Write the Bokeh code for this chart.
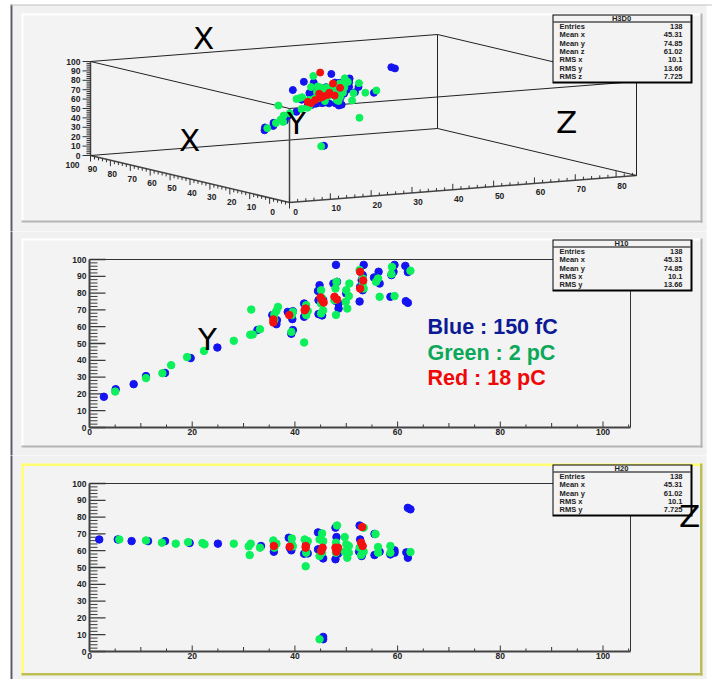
from bokeh.plotting import figure
from bokeh.models import BoxAnnotation, Label, FixedTicker, Range1d, LinearAxis
from bokeh.core.properties import value
from bokeh.embed import file_html
from bokeh.resources import INLINE

BLUE, GREEN, RED = "#1414f0", "#0cf05c", "#f41010"

# H10 (x, y) --------------------------------------------------------------
h10_blue_x = [2.8,5.1,8.6,11,14.7,19.7,24.9,32.7,35.6,36.5,36.4,38.6,39.6,39.5,39.6,39.3,41.8,42.2,41.8,44.8,44.5,44.6,44.6,45.3,45.5,48,47.5,48.2,47.9,48.5,48.5,50,52.6,52.7,53,53.2,53.2,53.4,55.4,56.3,56.5,58.6,58.8,59.2,59.4,61.5,62,61.6,62.0]
h10_blue_y = [18.3,22.8,25.8,30.6,32.5,41.3,47.6,58,66.9,63.9,61.5,68.8,69.2,64.5,58,55.8,73.8,68.8,65.9,84.7,81.3,75.8,67.5,66.7,76,96.8,85.7,86.7,75.4,73.8,70.8,79.8,75,83.7,87.7,81.7,90.7,96.8,89.3,92.7,85.7,77.8,90.7,92.7,96.8,96.2,92.5,75.2,74.2]
h3d_blue_z = [66.7,66.7,65.7,65.7,65.7,64.6,64.2,62.8,63.8,59.4,62,67.7,61.8,60.2,63,62,63.8,58.2,58.4,70.9,60.8,62,58,55.4,7,55,60,68,73.7,58,68,60,62,66.7,75,57,59.4,57,57.4,59.4,70,58,57.8,60.2,58.8,59,55.8,85.5,84.6]

h10_green_x = [5,11,14.2,15.9,19,22.3,28.1,31.5,31.3,31.8,33.2,36,36.4,36.7,36,39.3,39.4,39.6,41.8,42.2,42.2,42.5,45.1,45.3,45.1,45.5,45.1,48.1,47.9,48,47.7,49.9,50.2,50,50.6,50.5,52.6,53.2,53.4,53.2,55.8,56.2,56.5,59.4,58.8,58.9,62.5]
h10_green_y = [21.4,29.4,32.3,37.1,41.9,45.6,51.6,70.2,55.2,55.4,58.5,67.5,69.4,71.8,64,56.9,66.9,68.8,50.6,72.8,66.9,69.4,81.7,77,73.8,69.8,67.9,86.7,82.7,67,75.8,74.8,70.8,81.7,85.7,78.2,93.7,85.7,82.7,88.7,86.7,88.7,77.8,78.2,91.3,95.6,93.3]
h3d_green_z = [66.7,66.1,64.8,64.2,65.1,64.6,64.2,57.4,62.6,64.2,61.8,66.1,64.2,61.8,65,67.3,63.8,62.6,50.7,66.7,65.7,58.8,66.7,6,70.3,65.7,58.8,75,64.8,58.8,62,68.1,63.8,62.8,59.4,55.8,58.8,61.8,57.4,59.4,69.9,62.2,58.8,60,62.8,58.8,59.2]

h10_red_x = [35.8,35.8,38.9,41.9,42.1,45,45.3,45.6,47.7,48.2,52.7,53.3,52.7]
h10_red_y = [64.3,62.5,66.9,69.8,70.8,77.4,75.8,74.4,77.8,76.2,92.7,87.5,82.7]
h3d_red_z = [62.8,62.4,62.4,62.8,61.8,61.8,59.8,61.8,61.8,59.4,74.1,64.8,62.8]

# H20 (x, z) --------------------------------------------------------------
h20_blue_x = [1.9,5.5,8.2,11.4,14.7,19.5,25,33.4,35.9,36,38.8,39,39.3,41.8,42.5,42.2,44.5,44.5,45.5,45.5,45.5,47.9,48.1,47.9,48.4,52.6,52.7,53,52.5,55.5,56.5,58.6,59.4,59.4,61.7,62,62,62.5,55.5]
h20_blue_z = [66.7,66.7,65.7,65.7,65.7,64.6,64.2,62.8,59.4,63.8,67.7,61.8,60.2,58.2,58.4,63.8,70.9,60.8,55.4,8.7,7.3,73.7,68.1,54.9,58.2,75,66.7,56.8,59.4,57.4,59.4,57.8,60.2,58.8,59,55.8,85.5,84.6,70]
h20_green_x = [5.8,11,14.1,16.8,19.2,22,22.4,28.1,31,31.4,31.2,33.2,35.8,36.4,36,39.4,39.4,39.6,41.9,42.5,42.2,42.1,44.8,44.8,45.3,45.5,45.3,44.8,48.2,48,48,49.7,50,50.5,49.7,50.2,50.5,52.6,52.9,53.4,53.4,55.7,56.2,56.2,58.6,58.6,62.5]
h20_green_z = [66.7,66.1,64.8,64.2,65.1,64.6,63.8,64.2,62.6,64.2,57.4,61.8,66.1,64.2,61.8,67.3,63.8,62.6,66.7,65.7,58.8,50.7,66.7,56.8,70.3,65.7,58.8,7.3,75,64.8,58.8,68.1,63.8,62.8,59.4,55.8,58.8,61.8,57.4,73.7,59.4,69.9,62.2,58.8,62.8,58.8,59.2]
h20_red_x = [35.9,39,42.1,42.1,45.4,45.1,47.9,48.4,48.1,53.1,52.9,53.2]
h20_red_z = [62.8,62.4,62.8,61.8,61.8,59.8,61.8,61.8,59.4,74.1,64.8,62.8]

LEGEND = [("Blue : 150 fC", "#0c1a96", 326), ("Green : 2 pC", "#0aa858", 352), ("Red : 18 pC", "#f00808", 377)]
STATS_3D = [("Entries","138"),("Mean x","45.31"),("Mean y","74.85"),("Mean z","61.02"),("RMS x","10.1"),("RMS y","13.66"),("RMS z","7.725")]
STATS_10 = [("Entries","138"),("Mean x","45.31"),("Mean y","74.85"),("RMS x","10.1"),("RMS y","13.66")]
STATS_20 = [("Entries","138"),("Mean x","45.31"),("Mean y","61.02"),("RMS x","10.1"),("RMS y","7.725")]
TICKS = [0,20,40,60,80,100]
Y_TICKS = list(range(0,101,10))

FIG_W = 712
WIDE = "Liberation Sans"


def box(p, oy, l, t, r, b, color, level):
    p.add_layout(BoxAnnotation(left=l, right=r, top=t-oy, bottom=b-oy, left_units="canvas", right_units="canvas",
                               top_units="canvas", bottom_units="canvas",
                               fill_color=color, fill_alpha=1, line_alpha=0, level=level))


def label(p, oy, px, py, s, **kw):
    p.add_layout(Label(x=px, y=py-oy, x_units="canvas", y_units="canvas", text=s, text_baseline="middle", **kw))


def outer(p, oy, y0, y1):
    box(p, oy, 12, y0, 706, y1, "#f1f1f1", "underlay")
    box(p, oy, 10, y0, 12, y1, "#5c5c6c", "underlay")


def annotate(p, oy, panel, edges, title, stats, box_top, box_bottom, rows_top):
    L, T, R, B = panel
    box(p, oy, L, T, R, B, "#f3f3f3", "underlay")
    tc, lc, rc, bc, w = edges
    box(p, oy, L, T, R, T+w, tc, "underlay")
    box(p, oy, L, T, L+w, B, lc, "underlay")
    box(p, oy, R-w, T, R, B, rc, "underlay")
    box(p, oy, L, B-w, R, B, bc, "underlay")
    bl, br = 552, 690
    box(p, oy, bl, box_top, br+2, box_bottom+2, "#000000", "annotation")
    box(p, oy, bl+1, box_top+1, br, box_bottom, "#f3f3f3", "annotation")
    box(p, oy, bl+1, box_top+7, br, box_top+8, "#000000", "annotation")
    kw = dict(text_font=WIDE, text_font_style="bold", text_font_size="7.5px", text_color="#222222", level="overlay")
    label(p, oy, (bl+br)/2, box_top+4, title, text_align="center", **kw)
    for i, (k, v) in enumerate(stats):
        py = rows_top + i*8.35
        label(p, oy, 559, py, k, text_align="left", **kw)
        label(p, oy, 682, py, v, text_align="right", **kw)


def big(p, oy, px, py, s):
    label(p, oy, px, py, s, text_font="DejaVu Sans", text_font_size="31px", text_color="#000000",
          text_align="center", level="overlay")


def panel_2d(oy, h, xs, ys, panel, edges, title, stats, box_top, box_bottom, rows_top):
    x0_px, x_scale, y_scale = 89.0, 5.135, 1.68
    y0 = 427 - 231               # px of the value 0 inside the figure
    x_end = (630 - x0_px)/x_scale
    p = figure(width=FIG_W, height=h, output_backend="svg", toolbar_location=None, x_axis_location=None,
               y_axis_location=None, title=None,
               x_range=Range1d(-x0_px/x_scale, (FIG_W - x0_px)/x_scale),
               y_range=Range1d(-(h - y0)/y_scale, y0/y_scale),
               min_border_left=0, min_border_right=0, min_border_top=0, min_border_bottom=0,
               border_fill_color=None, background_fill_color=None, outline_line_color=None)
    p.grid.visible = False
    x_minor = list(range(0, 106, 5))
    y_minor = list(range(0, 101, 2))
    xa = LinearAxis(fixed_location=0, bounds=(0, x_end), ticker=FixedTicker(ticks=TICKS, minor_ticks=x_minor))
    ya = LinearAxis(fixed_location=0, bounds=(0, 100), ticker=FixedTicker(ticks=Y_TICKS, minor_ticks=y_minor))
    p.add_layout(xa, "below")
    p.add_layout(ya, "left")
    for ax in (xa, ya):
        ax.major_tick_out = 0
        ax.minor_tick_out = 0
        ax.major_tick_in = 0
        ax.minor_tick_in = 0
        ax.axis_line_color = "#444444"
        ax.axis_line_width = 2
        ax.major_label_text_font = WIDE
        ax.major_label_text_font_style = "bold"
        ax.major_label_text_font_size = "8.5px"
        ax.major_label_text_color = "#222222"
    xa.major_label_standoff = 1
    ya.major_label_standoff = 3
    outer(p, oy, oy - 3, oy + h + 3)
    # inward ticks, as ROOT draws them
    for v in x_minor:
        ln = (6 if v % 20 == 0 else 4.5 if v % 10 == 0 else 3) / y_scale
        p.line([v, v], [0, ln], line_color="#333333", line_width=1)
    for v in y_minor:
        ln = (16 if v % 10 == 0 else 8) / x_scale
        p.line([0, ln], [v, v], line_color="#3a3a3a", line_width=1.3 if v % 10 == 0 else 1)
    p.line([0, x_end, x_end], [100, 100, 0], line_color="#333333", line_width=1)
    annotate(p, oy, panel, edges, title, stats, box_top, box_bottom, rows_top)
    for (x, y, c) in zip(xs, ys, (BLUE, GREEN, RED)):
        p.scatter(x, y, size=7.5, color=c, line_color=c)
    return p


# --- panel 1: 3D view -------------------------------------------------------
O = (289.0, 202.0)          # front bottom corner
EX = (347.0/85, -27.0/85)   # per unit of x
EY = (-199.0/100, -47.0/100)
EZ = (0.0, -0.94)

def project(x, y, z):
    return (O[0] + x*EX[0] + y*EY[0] + z*EZ[0], O[1] + x*EX[1] + y*EY[1] + z*EZ[1])

def pr(xs, ys, zs):
    pts = [project(a, b, c) for a, b, c in zip(xs, ys, zs)]
    return [q[0] for q in pts], [q[1] for q in pts]

p1 = figure(width=FIG_W, height=231, output_backend="svg", toolbar_location=None, title=None,
            x_range=Range1d(0, FIG_W), y_range=Range1d(231, 0), x_axis_location=None, y_axis_location=None,
            min_border_left=0, min_border_right=0, min_border_top=0, min_border_bottom=0,
            border_fill_color=None, background_fill_color=None, outline_line_color=None)
p1.grid.visible = False
outer(p1, 0, 4, 234)
box(p1, 0, 10, 4, 712, 5, "#c4c4c4", "underlay")
annotate(p1, 0, (21, 13, 702, 222), ("#ffffff", "#ffffff", "#b4b4b4", "#b4b4b4", 2), "H3D0", STATS_3D, 14, 81, 26)

XM, YM, ZM = 85, 100, 100
def seg(a, b, color="#222222", w=1):
    q, r = project(*a), project(*b)
    p1.line([q[0], r[0]], [q[1], r[1]], line_color=color, line_width=w)
seg((0,0,0),(XM,0,0),"#444444",1.5); seg((0,0,0),(0,YM,0),"#444444",1.5)
seg((XM,0,0),(XM,YM,0)); seg((0,YM,0),(XM,YM,0))
seg((0,0,0),(0,0,ZM),"#444444",1.5); seg((0,YM,0),(0,YM,ZM),"#444444",1.5); seg((XM,YM,0),(XM,YM,ZM))
seg((XM,0,0),(XM,0,ZM))
seg((0,0,ZM),(XM,0,ZM)); seg((0,0,ZM),(0,YM,ZM))
seg((0,YM,ZM),(XM,YM,ZM)); seg((XM,0,ZM),(XM,YM,ZM))
LAB = dict(text_font=value(WIDE), text_font_style="bold", text_font_size="8.5px", text_color="#222222",
           text_align="center", text_baseline="middle")
for z in range(0, 101, 2):
    q = project(0, YM, z)
    ln = 8 if z % 10 == 0 else 4
    p1.line([q[0]-ln, q[0]], [q[1], q[1]], line_color="#333333", line_width=1)
for z in range(0, 101, 10):
    q = project(0, YM, z)
    p1.text([q[0]-10], [q[1]], text=[str(z)], **{**LAB, "text_align": "right"})
for y in range(0, 101, 2):
    q = project(0, y, 0)
    ln = 6 if y % 10 == 0 else 3
    p1.line([q[0], q[0]], [q[1], q[1]+ln], line_color="#333333", line_width=1)
for y in range(0, 101, 10):
    q = project(0, y, 0)
    p1.text([q[0]-18 if y else q[0]-17], [q[1]+9], text=[str(y)], **LAB)
for x in range(0, 85, 2):
    q = project(x, 0, 0)
    ln = 6 if x % 10 == 0 else 3
    p1.line([q[0], q[0]], [q[1], q[1]-ln], line_color="#333333", line_width=1)
for x in range(0, 85, 10):
    q = project(x, 0, 0)
    p1.text([q[0]+6], [q[1]+9], text=[str(x)], **LAB)
for xs, ys, zs, c in ((h10_blue_x, h10_blue_y, h3d_blue_z, BLUE),
                      (h10_green_x, h10_green_y, h3d_green_z, GREEN),
                      (h10_red_x, h10_red_y, h3d_red_z, RED)):
    px, py = pr(xs, ys, zs)
    p1.scatter(px, py, size=7, color=c, line_color=c)
big(p1, 0, 203, 37, "X"); big(p1, 0, 189, 139, "X")
big(p1, 0, 296, 122, "Y"); big(p1, 0, 566, 121, "Z")

# --- panel 2 ----------------------------------------------------------------
p2 = panel_2d(231, 224, (h10_blue_x, h10_green_x, h10_red_x), (h10_blue_y, h10_green_y, h10_red_y),
              (21, 238, 702, 447), ("#ffffff", "#ffffff", "#b4b4b4", "#b4b4b4", 2),
              "H10", STATS_10, 239, 289, 251)
big(p2, 231, 207, 338, "Y")
for s, c, py in LEGEND:
    label(p2, 231, 427, py, s, text_font=WIDE, text_font_style="bold", text_font_size="21.5px",
          text_color=c, text_align="left")

# --- panel 3 ----------------------------------------------------------------
p3 = panel_2d(455, 224, (h20_blue_x, h20_green_x, h20_red_x), (h20_blue_z, h20_green_z, h20_red_z),
              (21, 463, 702, 675), ("#ffff70", "#ffff70", "#bdbd55", "#bdbd55", 2.5),
              "H20", STATS_20, 464, 514, 476)
big(p3, 455, 689, 515, "Z")

open("out.html", "w").write(file_html([p1, p2, p3], INLINE))
